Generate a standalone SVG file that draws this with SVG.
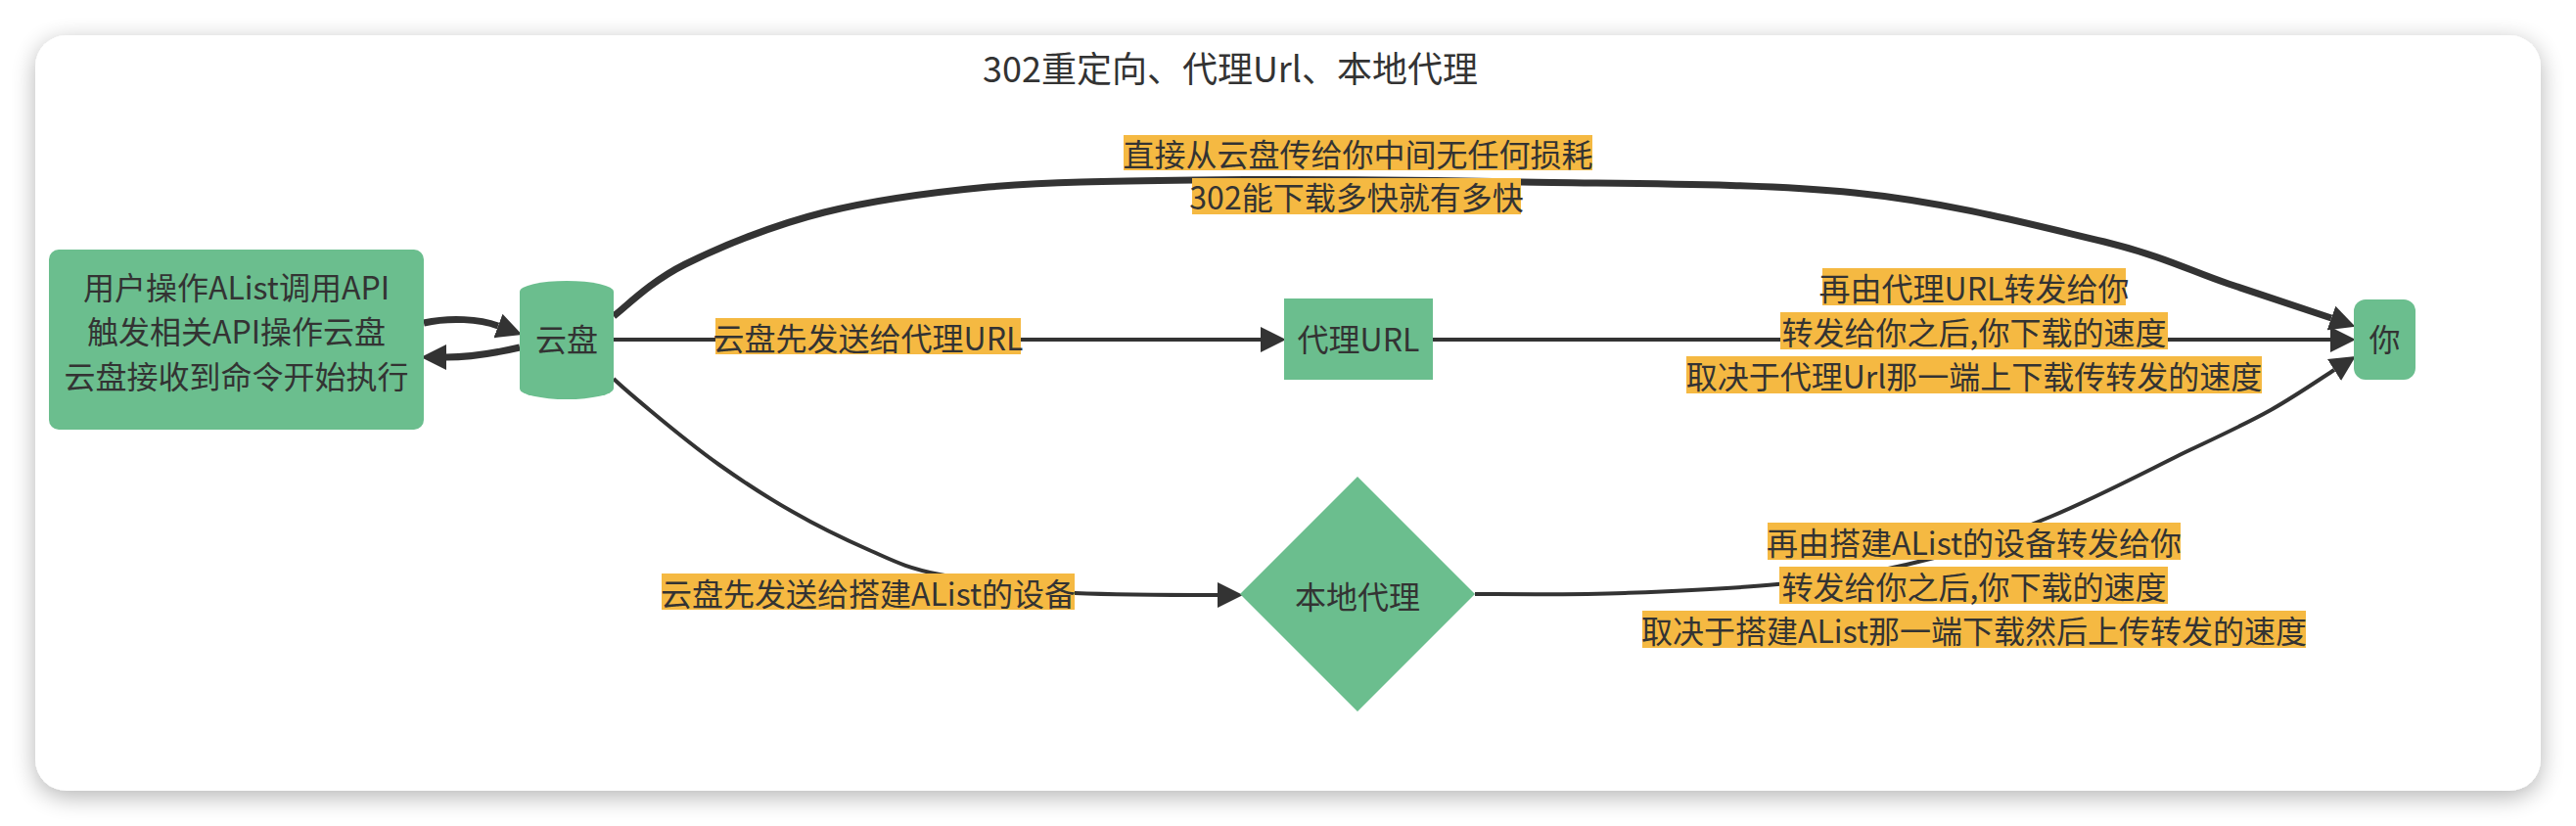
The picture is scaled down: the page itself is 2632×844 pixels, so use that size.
<svg xmlns="http://www.w3.org/2000/svg" width="2632" height="844" viewBox="0 0 2632 844">
<style>
.node{fill:#6bbe8e;}
.nt{font-family:"Noto Sans CJK SC","Noto Sans",sans-serif;font-size:32px;fill:#333;text-anchor:middle;dominant-baseline:central;}
.title{font-family:"Noto Sans CJK SC","Noto Sans",sans-serif;font-size:36px;fill:#333;text-anchor:middle;dominant-baseline:central;}
.lbg{fill:#f5b942;}
.e{fill:none;stroke:#333;stroke-width:4;}
.thick{stroke-width:7;}
</style>
<defs>
<filter id="sh" x="-5%" y="-15%" width="110%" height="135%">
<feGaussianBlur in="SourceAlpha" stdDeviation="12"/>
<feOffset dy="6" result="b"/>
<feComponentTransfer><feFuncA type="linear" slope="0.3"/></feComponentTransfer>
<feMerge><feMergeNode/><feMergeNode in="SourceGraphic"/></feMerge>
</filter>
<marker id="arr" markerUnits="userSpaceOnUse" markerWidth="26" markerHeight="26" viewBox="0 -12 24 24" refX="0" refY="0" orient="auto">
<path d="M0,-12 L24,0 L0,12 z" fill="#333"/>
</marker>
</defs>
<rect x="0" y="0" width="2632" height="844" fill="#ffffff"/>
<rect x="36" y="36" width="2560" height="772" rx="32" fill="#ffffff" filter="url(#sh)"/>
<text class="title" x="1257" y="68">302重定向、代理Url、本地代理</text>

<g id="edges">
<path class="e thick" d="M433,330 C460,324 490,326 509,333" marker-end="url(#arr)"/>
<path class="e thick" d="M531,355 C505,361 480,365 456,365" marker-end="url(#arr)"/>
<path class="e thick" d="M627,323 C639,314 664,288 700,270 C736,252 790,230 842,217 C894,204 947,197 1010,191 C1073,186 1129,185 1220,184 C1311,183 1443,184 1555,186 C1668,188 1796,187 1895,197 C1994,207 2086,232 2150,247 C2214,263 2238,277 2277,290 C2316,303 2365,319 2382,325" marker-end="url(#arr)"/>
<path class="e" d="M627,347 L1288,347" marker-end="url(#arr)"/>
<path class="e" d="M1464,347 L2381,347" marker-end="url(#arr)"/>
<path class="e" d="M627,387 C633,393 647,405 665,420 C683,435 711,458 735,475 C759,492 785,509 810,523 C836,538 863,551 888,562 C913,573 925,580 960,587 C995,594 1051,603 1098,606 C1145,608 1220,608 1244,608" marker-end="url(#arr)"/>
<path class="e" d="M1507,607 C1532,607 1608,608 1660,606 C1712,604 1766,602 1816,597 C1866,592 1914,586 1960,574 C2007,563 2049,547 2095,528 C2141,509 2198,479 2235,461 C2273,443 2295,433 2320,419 C2345,405 2374,385 2385,378" marker-end="url(#arr)"/>
</g>

<g id="edge-labels">
<g id="label-302">
<rect class="lbg" x="1148" y="138" width="479" height="36"/>
<text class="nt" x="1387.5" y="156">直接从云盘传给你中间无任何损耗</text>
<rect class="lbg" x="1218" y="182" width="336" height="37"/>
<text class="nt" x="1386" y="200">302能下载多快就有多快</text>
</g>
<g id="label-cloud-proxy">
<rect class="lbg" x="731" y="325" width="312" height="37"/>
<text class="nt" x="887" y="343.5">云盘先发送给代理URL</text>
</g>
<g id="label-proxy-you">
<rect class="lbg" x="1862" y="274" width="310" height="38"/>
<text class="nt" x="2017" y="293">再由代理URL转发给你</text>
<rect class="lbg" x="1819" y="319" width="396" height="38"/>
<text class="nt" x="2017" y="338">转发给你之后,你下载的速度</text>
<rect class="lbg" x="1723" y="364" width="588" height="38"/>
<text class="nt" x="2017" y="383">取决于代理Url那一端上下载传转发的速度</text>
</g>
<g id="label-cloud-local">
<rect class="lbg" x="676" y="586" width="422" height="37"/>
<text class="nt" x="887" y="604.5">云盘先发送给搭建AList的设备</text>
</g>
<g id="label-local-you">
<rect class="lbg" x="1806" y="534" width="422" height="38"/>
<text class="nt" x="2017" y="553">再由搭建AList的设备转发给你</text>
<rect class="lbg" x="1818" y="579" width="397" height="38"/>
<text class="nt" x="2017" y="598">转发给你之后,你下载的速度</text>
<rect class="lbg" x="1678" y="624" width="678" height="38"/>
<text class="nt" x="2017" y="643">取决于搭建AList那一端下载然后上传转发的速度</text>
</g>
</g>

<g id="node-user">
<rect class="node" x="50" y="255" width="383" height="184" rx="10"/>
<text class="nt" x="241.5" y="292">用户操作AList调用API</text>
<text class="nt" x="241.5" y="337">触发相关API操作云盘</text>
<text class="nt" x="241.5" y="383">云盘接收到命令开始执行</text>
</g>
<g id="node-cloud">
<path class="node" d="M531,298 A48,11 0 0,1 627,298 L627,397 A48,11 0 0,1 531,397 Z"/>
<text class="nt" x="579" y="345">云盘</text>
</g>
<g id="node-proxyurl">
<rect class="node" x="1312" y="305" width="152" height="83"/>
<text class="nt" x="1388" y="345">代理URL</text>
</g>
<g id="node-local">
<polygon class="node" points="1387,487 1507,607 1387,727 1267,607"/>
<text class="nt" x="1387" y="608">本地代理</text>
</g>
<g id="node-you">
<rect class="node" x="2405" y="306" width="63" height="82" rx="12"/>
<text class="nt" x="2436.5" y="345">你</text>
</g>
</svg>
